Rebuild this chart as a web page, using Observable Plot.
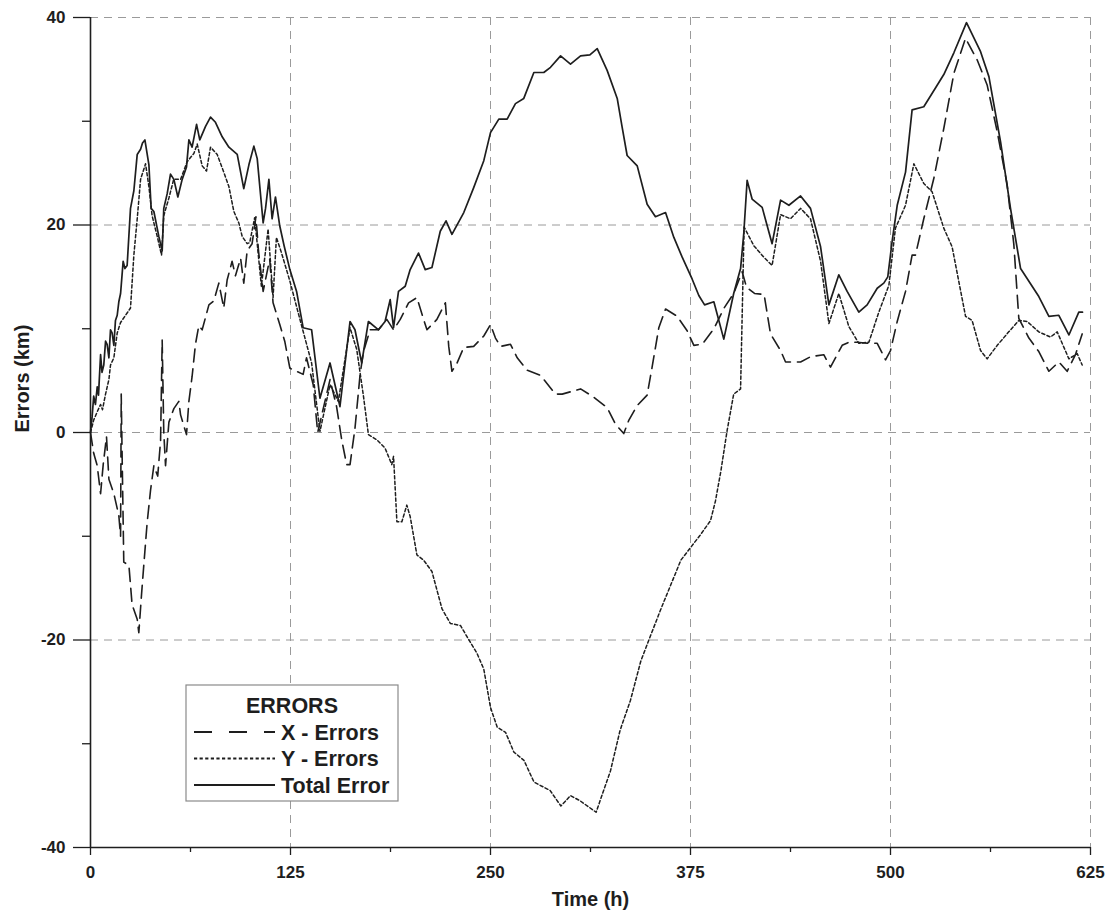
<!DOCTYPE html>
<html>
<head>
<meta charset="utf-8">
<script src="https://cdn.jsdelivr.net/npm/d3@7"></script>
<script src="https://cdn.jsdelivr.net/npm/@observablehq/plot@0.6"></script>
<style>
  body { margin: 0; background: #fff; }
  #chart { position: relative; width: 1112px; height: 919px; }
</style>
</head>
<body>
<div id="chart"></div>
<script>
// ---- Data ----
const totalHours = [0,1,2,3.1,4.2,5,6.3,7.2,8.3,9.4,10.4,11.5,12.5,13.5,14.6,15.6,16.7,17.7,18.8,20.4,21.5,22.9,25,27.1,29.2,31.3,32.5,34,36.5,37.9,39.6,42.7,44.8,45.8,47.9,50,52.1,54.6,57.3,60,61.5,63.5,66.3,68.3,71.9,75,78.1,82.3,86.5,91.7,95.8,99,102.1,104.2,107.9,109.4,111.5,113.5,115.6,118.3,121,124.6,128.8,132.9,138.2,143.4,149.7,155.9,162.2,165.3,169.5,173.7,180,184.1,187.3,189.4,192.5,196.7,199.8,205,209.2,213.4,218.6,222.2,225.9,233.3,239.5,245.8,250,255.2,260.4,265.6,270.8,277.1,283.3,287.5,293.8,300,306.3,312.1,316.7,322.9,329.2,332.3,335.4,341.7,347.9,353.1,359.4,364.6,369.8,376,380.2,383.8,389.6,395.8,402,406.3,408.3,410.4,413.5,419.8,426,431.3,436.5,443.8,450,456.3,461.5,467.7,472.9,480.2,485.4,491.7,495.8,498.3,501,504.2,509.4,513.5,520.8,528.1,533.3,539.6,547.5,556.3,561.5,568.8,575,581.3,592.7,599,605.2,611.5,617.7,620];
const totalValues = [0,1.5,3.5,2.7,4.4,3.6,7.5,5.8,6.5,8.8,8.5,7.2,9.9,9.6,8.4,10.8,11.3,12.6,13.4,16.5,15.8,16.1,21.6,23.3,26.8,27.3,27.9,28.2,25.8,21.6,21.3,18.9,17.5,21.6,23,24.9,24.4,22.7,24.4,25.6,28.2,27.5,29.7,28.2,29.5,30.4,29.9,28.5,27.5,26.8,23.5,25.8,27.6,26.4,20.2,21.6,24.4,20.6,22.7,19.9,18,15.7,13.6,10.1,9.9,3.3,6.7,2.5,10.7,9.9,6.7,10.7,9.9,10.7,12.8,10.1,13.6,14.1,15.7,17.3,15.7,15.9,19.4,20.4,19.1,21.2,23.6,26.2,28.9,30.2,30.2,31.7,32.2,34.7,34.7,35.2,36.3,35.5,36.3,36.4,37,34.9,32.2,29.4,26.7,25.7,22,20.8,21.2,18.8,16.9,14.8,13.2,12.3,12.6,9,13.4,15.8,19.2,24.3,22.5,21.7,18.2,22.4,21.9,22.8,21.6,17.9,12.3,15.2,13.6,11.6,12.3,13.9,14.4,15,18.4,21.9,25.1,31.1,31.4,33.2,34.5,36.6,39.5,36.7,34.3,28,21.6,15.8,13.1,11.2,11.3,9.4,11.6,11.6];

const yHours = [0,2,4.2,6.3,7.5,9.4,11.5,12.5,14.6,16.7,18.8,21.9,25,27.1,29.2,31.3,34.4,36.5,38.5,41.7,44.4,45.8,49,52,56.3,60.4,64.6,66.7,69.8,72.5,75,79.2,83.3,86.5,89.6,92.7,94.8,97.9,99.5,102.6,106.8,111,114.1,116.2,119.4,124.6,130.9,138.2,143.4,149.7,154.9,162.2,166.4,170.6,173.7,178.9,184.1,188.3,189.4,191.5,194.6,197.7,199.8,204,208.2,213.4,219.7,224.9,231.2,235.4,241.6,245.8,250,254.2,259.4,264.6,270.9,277.2,283.4,287.2,294,300,306,316,325,331,337.5,344,356,369,381,387.5,390.6,394,397.9,402,406.3,408.5,414.6,420.8,426,431.3,437.5,443.8,450,456.3,461.5,467.7,474,480.2,486.5,492.7,499,503.1,509.4,514.6,520.8,526,533.3,538.5,546.9,551,556.3,560.4,566.7,573.9,580.2,585.4,592.7,600,604.2,611.5,616.7,619.8];
const yValues = [0,1.2,2,2.7,2.2,3.7,5.1,6.5,7.2,9.6,10.6,11.3,12,17.1,20.6,24.4,25.9,23.7,20.9,18.9,17.1,20.9,22.6,24.4,24.4,26.1,26.9,27.8,25.7,25.2,27.5,26.8,25.1,23.7,21.3,20.2,18.9,18.2,18.3,20.7,14.1,19.6,13,18.8,17.3,14.6,10.9,6.7,0.1,4.6,3,10.1,8,3.5,-0.2,-0.7,-1.5,-3.1,-2.3,-8.6,-8.6,-7,-8.1,-11.8,-12.3,-13.4,-17,-18.4,-18.6,-19.7,-21.3,-22.8,-26.5,-28.4,-28.9,-30.8,-31.6,-33.7,-34.2,-34.5,-36,-35,-35.5,-36.6,-32.6,-28.7,-25.8,-22,-17.2,-12.3,-9.9,-8.5,-6.6,-3.7,0.2,3.7,4.2,19.8,18,16.9,16.1,21,20.6,21.6,20.6,16.5,10.5,13.4,10.2,8.6,8.7,11.6,14.2,19.7,21.9,25.9,24,23.2,19.7,17.9,11.2,10.8,7.9,7.1,8.4,9.7,10.8,10.7,9.7,9.2,9.7,7.1,7.6,6.5];

const xHours = [0,2,4.2,6.3,8,10,11.5,14.6,17.7,18.8,19.2,19.8,20.8,24,26,29.2,30.2,31.9,33.3,35.4,37.5,39.6,42,43.8,44.8,45.8,46.9,49,52.1,55.2,56.3,60,61.5,63.5,65.6,67.7,69.8,74,77.1,80.2,83.3,85.4,88.5,90.6,93.8,95.8,97.9,101,103.4,105,107.9,112,114.1,118.3,121.4,124.6,132.9,135,139.2,142,149.7,153.8,157,160.1,162.2,165.3,168.5,170.6,174.8,180,185.2,189.4,193.6,198.8,204,208.2,210.3,216.5,221.8,223.9,225.9,229.1,233.3,239.5,245.8,250,253.1,256.3,262.5,266.7,272.9,281.3,290.6,294.8,306.3,314.6,322.9,328.1,333.3,336.5,341.7,347.9,351,355.2,359.4,366.7,372.9,377.1,382.3,389.6,396,402,407.3,410,415,421,425,431.3,434.4,443.8,450,458.3,462.5,469.8,474,479.2,485.4,491.7,496.9,500,504.2,509.4,513.5,515.6,520.8,527.1,533.3,539.6,546.9,554.2,560.4,566.7,572.9,577.1,580.2,586.5,592.7,599,605.2,610.4,615.6,619.8];
const xValues = [0,-2,-3.2,-5.9,-3,-0.4,-4.5,-5.9,-8,-10,3.7,-2.5,-12.5,-12.8,-16.6,-18,-19.3,-15.6,-12.8,-8.7,-5.6,-3.2,-4.2,-0.8,8.9,0,-3.2,1,2.3,3,1.7,-0.2,3,5.4,8.5,10.3,9.9,12.3,12.7,14.4,12,14.7,16.5,15.1,16.8,14.4,17.5,18.2,20.8,17.5,13.6,16.7,12.5,10.4,8.8,6.2,5.6,7.2,4.6,0,5.1,2.5,-0.7,-3.1,-3.1,0.4,5.6,7.8,9.9,9.9,10.9,9.9,10.9,12.5,13,10.9,9.9,10.9,12.5,8.3,5.9,6.7,8.2,8.3,9.3,10.4,9.1,8.3,8.5,7.2,6,5.5,3.7,3.7,4.2,3.4,2.4,0.8,-0.1,1.2,2.6,3.6,6.3,10.1,11.9,11.2,9.8,8.4,8.5,10,12,13.4,15.5,14,13.4,13.3,9.5,7.9,6.8,6.8,7.3,7.5,6.3,8.4,8.7,8.7,8.6,8.6,7,7.9,10.7,13.6,17.1,17.1,20.6,24.5,29.3,34.6,38,35.9,33.5,29,23.9,18.1,11,9.1,7.8,5.9,6.8,5.9,7.5,9.5];

const xTicks = [0,125,250,375,500,625];
const xMinorTicks = [62.5,187.5,312.5,437.5,562.5];
const yTicks = [-40,-20,0,20,40];
const yMinorTicks = [-30,-10,10,30];
const xTitle = "Time (h)";
const yTitle = "Errors (km)";
const seriesNames = ["X - Errors","Y - Errors","Total Error"];
const legendTitle = "ERRORS";

// ---- Build ----
const toRows = (hs, vs) => hs.map((h, i) => ({h, v: vs[i]}));
const xRows = toRows(xHours, xValues);
const yRows = toRows(yHours, yValues);
const tRows = toRows(totalHours, totalValues);

const ink = "#1e1e1e";
const font = "'Liberation Sans',Arial,Helvetica,sans-serif";
const dashX = "13,7";
const dashY = "3.2,2.4";
const gridStyle = {stroke: "#9a9a9a", strokeWidth: 1, strokeDasharray: "8,6", strokeOpacity: 1};
const plainFormat = d => String(d);

const chart = Plot.plot({
  width: 1112,
  height: 919,
  marginLeft: 90,
  marginRight: 22,
  marginTop: 17,
  marginBottom: 72,
  style: {fontFamily: font, fontSize: "17px", fontWeight: "bold", color: ink, background: "#fff"},
  x: {domain: [0, 625]},
  y: {domain: [-40, 40]},
  marks: [
    Plot.ruleY([20, 0, -20, 40], gridStyle),
    Plot.ruleX([125, 250, 375, 500, 625], gridStyle),
    Plot.line(xRows, {x: "h", y: "v", stroke: ink, strokeWidth: 1.6, strokeDasharray: dashX}),
    Plot.line(yRows, {x: "h", y: "v", stroke: ink, strokeWidth: 1.5, strokeDasharray: dashY}),
    Plot.line(tRows, {x: "h", y: "v", stroke: ink, strokeWidth: 1.7}),
    Plot.axisX({ticks: xTicks, tickFormat: plainFormat, tickSize: 8, tickPadding: 10, label: null, fontSize: 17, strokeWidth: 1.3}),
    Plot.axisX({ticks: xMinorTicks, tickSize: 5, text: null, label: null, strokeWidth: 1.3}),
    Plot.axisY({ticks: yTicks, tickFormat: plainFormat, tickSize: 17, tickPadding: 8, label: null, fontSize: 17, strokeWidth: 1.3}),
    Plot.axisY({ticks: yMinorTicks, tickSize: 8, text: null, label: null, strokeWidth: 1.3}),
    Plot.text([xTitle], {frameAnchor: "bottom", dy: 58, fontSize: 20, fontWeight: "bold", fill: ink}),
    Plot.text([yTitle], {frameAnchor: "left", dx: -68, rotate: -90, fontSize: 20, fontWeight: "bold", fill: ink}),
    Plot.ruleX([0], {stroke: ink, strokeWidth: 1.6}),
    Plot.ruleY([-40], {stroke: ink, strokeWidth: 1.6})
  ]
});

document.getElementById("chart").appendChild(chart);

// ---- Legend (inside the SVG) ----
const svg = d3.select(chart);
const lg = svg.append("g").attr("transform", "translate(186,685)")
  .attr("text-anchor", "start")
  .style("font-family", font).style("font-weight", "bold").style("font-size", "21.5px");
lg.append("rect").attr("x", 0).attr("y", 0).attr("width", 212).attr("height", 116)
  .attr("fill", "#fff").attr("stroke", "#8a8a8a").attr("stroke-width", 1.2);
lg.append("text").attr("x", 106).attr("y", 28).attr("text-anchor", "middle").attr("fill", ink).text(legendTitle);
const legendDash = ["18,17", dashY, null];
seriesNames.forEach((name, i) => {
  const yy = 47 + i * 26.5;
  lg.append("line").attr("x1", 8).attr("x2", 89).attr("y1", yy).attr("y2", yy)
    .attr("stroke", ink).attr("stroke-width", 1.8)
    .attr("stroke-dasharray", legendDash[i]);
  lg.append("text").attr("x", 95).attr("y", yy + 7.5).attr("text-anchor", "start").attr("fill", ink).text(name);
});
</script>
</body>
</html>
